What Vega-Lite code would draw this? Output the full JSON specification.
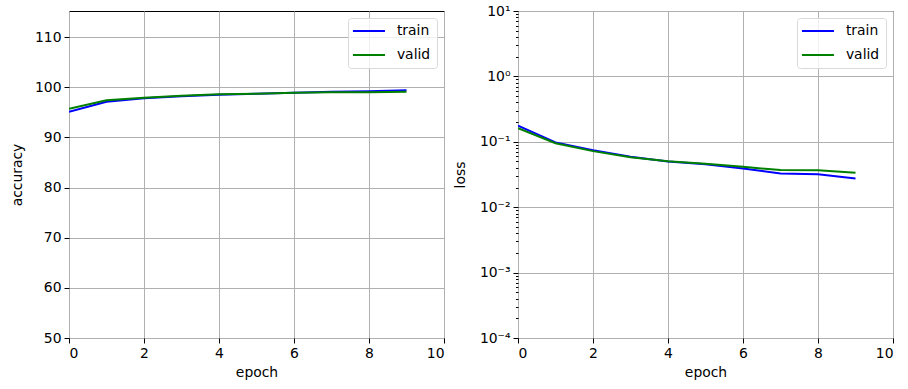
{
  "$schema": "https://vega.github.io/schema/vega-lite/v6.json",
  "padding": {"left": 9, "top": 3, "right": 5, "bottom": 2},
  "spacing": 7,
  "data": {"values": [
    {"epoch": 0, "series": "train", "accuracy": 95.1, "loss": 0.176},
    {"epoch": 1, "series": "train", "accuracy": 97.1, "loss": 0.098},
    {"epoch": 2, "series": "train", "accuracy": 97.8, "loss": 0.0746},
    {"epoch": 3, "series": "train", "accuracy": 98.2, "loss": 0.059},
    {"epoch": 4, "series": "train", "accuracy": 98.5, "loss": 0.050},
    {"epoch": 5, "series": "train", "accuracy": 98.7, "loss": 0.0452},
    {"epoch": 6, "series": "train", "accuracy": 98.9, "loss": 0.039},
    {"epoch": 7, "series": "train", "accuracy": 99.1, "loss": 0.0327},
    {"epoch": 8, "series": "train", "accuracy": 99.2, "loss": 0.032},
    {"epoch": 9, "series": "train", "accuracy": 99.4, "loss": 0.0275},
    {"epoch": 0, "series": "valid", "accuracy": 95.7, "loss": 0.162},
    {"epoch": 1, "series": "valid", "accuracy": 97.4, "loss": 0.095},
    {"epoch": 2, "series": "valid", "accuracy": 97.9, "loss": 0.072},
    {"epoch": 3, "series": "valid", "accuracy": 98.3, "loss": 0.058},
    {"epoch": 4, "series": "valid", "accuracy": 98.6, "loss": 0.0505},
    {"epoch": 5, "series": "valid", "accuracy": 98.7, "loss": 0.0462},
    {"epoch": 6, "series": "valid", "accuracy": 98.9, "loss": 0.0415},
    {"epoch": 7, "series": "valid", "accuracy": 99.0, "loss": 0.0369},
    {"epoch": 8, "series": "valid", "accuracy": 99.0, "loss": 0.0368},
    {"epoch": 9, "series": "valid", "accuracy": 99.1, "loss": 0.0336}
  ]},
  "config": {
    "font": "DejaVu Sans",
    "view": {"stroke": "#000000", "strokeWidth": 1},
    "axis": {
      "labelFont": "DejaVu Sans", "labelFontSize": 13.9, "labelColor": "#000000",
      "titleFont": "DejaVu Sans", "titleFontSize": 13.9, "titleFontWeight": "normal", "titleColor": "#000000",
      "domain": false, "tickColor": "#000000", "tickSize": 5, "tickWidth": 1,
      "gridColor": "#b0b0b0", "gridWidth": 1, "gridOpacity": 1, "labelPadding": 3
    },
    "legend": {
      "orient": "top-right", "offset": 7, "title": null,
      "labelFont": "DejaVu Sans", "labelFontSize": 13.9, "labelColor": "#000000",
      "symbolType": "M-3,0H3", "symbolSize": 114, "symbolStrokeWidth": 2,
      "symbolOffset": 8, "labelOffset": 21,
      "strokeColor": "#d9d9d9", "fillColor": "rgba(255,255,255,0.8)", "cornerRadius": 3,
      "padding": 6, "rowPadding": 9
    }
  },
  "hconcat": [
    {
      "width": 375, "height": 327,
      "mark": {"type": "line", "strokeWidth": 2, "clip": true},
      "encoding": {
        "x": {"field": "epoch", "type": "quantitative", "scale": {"domain": [0, 10], "nice": false},
              "axis": {"values": [0, 2, 4, 6, 8, 10], "title": "epoch", "titlePadding": 6}},
        "y": {"field": "accuracy", "type": "quantitative", "scale": {"domain": [50, 115.2], "nice": false, "zero": false},
              "axis": {"values": [50, 60, 70, 80, 90, 100, 110], "title": "accuracy", "titlePadding": 10}},
        "color": {"field": "series", "type": "nominal",
                  "scale": {"domain": ["train", "valid"], "range": ["#0000ff", "#008000"]}}
      }
    },
    {
      "width": 375, "height": 327,
      "mark": {"type": "line", "strokeWidth": 2, "clip": true},
      "encoding": {
        "x": {"field": "epoch", "type": "quantitative", "scale": {"domain": [0, 10], "nice": false},
              "axis": {"values": [0, 2, 4, 6, 8, 10], "title": "epoch", "titlePadding": 6}},
        "y": {"field": "loss", "type": "quantitative",
              "scale": {"type": "log", "domain": [0.0001, 10], "nice": false},
              "axis": {
                "title": "loss", "titlePadding": 12,
                "values": [0.0001,0.0002,0.0003,0.0004,0.0005,0.0006,0.0007,0.0008,0.0009,
                           0.001,0.002,0.003,0.004,0.005,0.006,0.007,0.008,0.009,
                           0.01,0.02,0.03,0.04,0.05,0.06,0.07,0.08,0.09,
                           0.1,0.2,0.3,0.4,0.5,0.6,0.7,0.8,0.9,
                           1,2,3,4,5,6,7,8,9,10],
                "labelExpr": "abs(log(datum.value)/LN10 - round(log(datum.value)/LN10)) < 0.000001 ? ({'1': '10¹', '0': '10⁰', '-1': '10⁻¹', '-2': '10⁻²', '-3': '10⁻³', '-4': '10⁻⁴'})[toString(round(log(datum.value)/LN10))] : ''",
                "gridOpacity": {"condition": {"test": "abs(log(datum.value)/LN10 - round(log(datum.value)/LN10)) < 0.000001", "value": 1}, "value": 0},
                "tickSize": {"condition": {"test": "abs(log(datum.value)/LN10 - round(log(datum.value)/LN10)) < 0.000001", "value": 5}, "value": 2.5},
                "labelOverlap": false
              }},
        "color": {"field": "series", "type": "nominal",
                  "scale": {"domain": ["train", "valid"], "range": ["#0000ff", "#008000"]}}
      }
    }
  ],
  "resolve": {"legend": {"color": "independent"}}
}
